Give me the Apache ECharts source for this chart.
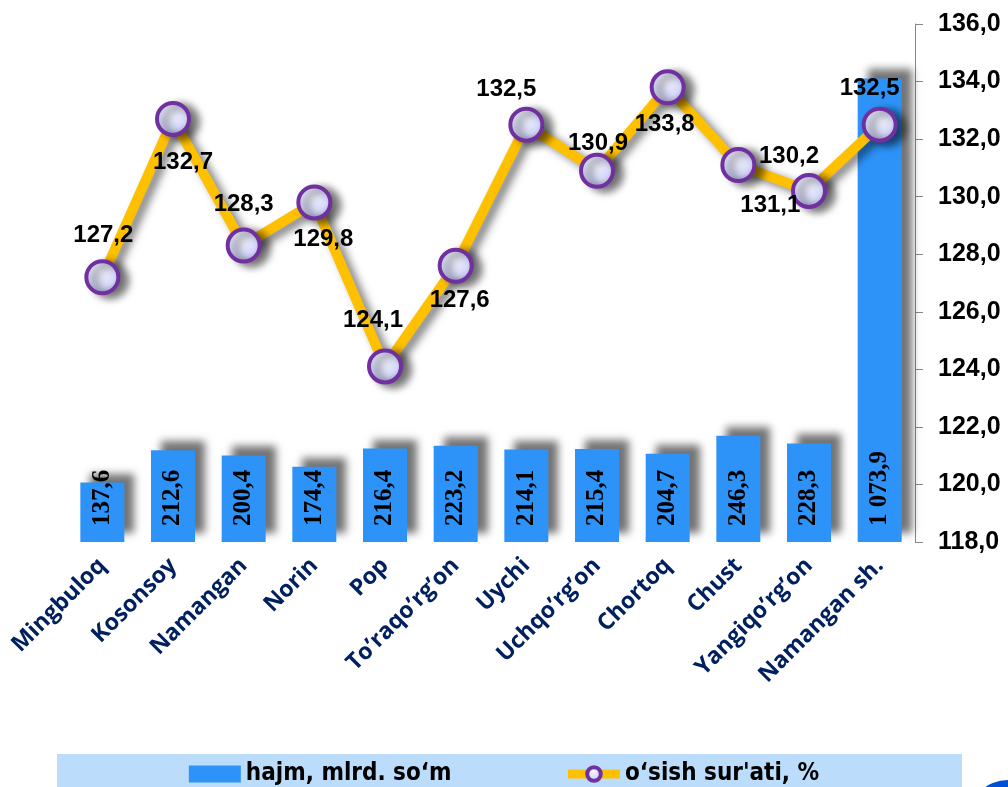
<!DOCTYPE html>
<html>
<head>
<meta charset="utf-8">
<script src="https://cdn.jsdelivr.net/npm/echarts@6/dist/echarts.min.js"></script>
<style>
  html, body { margin: 0; padding: 0; background: #fff; }
  #chart { width: 1008px; height: 787px; }
</style>
</head>
<body>
<div id="chart"></div>
<script>
// tumanlar
const categories = ["Mingbuloq", "Kosonsoy", "Namangan", "Norin", "Pop", "To\u2019raqo\u2019rg\u2019on",
  "Uychi", "Uchqo\u2019rg\u2019on", "Chortoq", "Chust", "Yangiqo\u2019rg\u2019on", "Namangan sh."];
// hajm, mlrd. so'm
const volume = [137.6, 212.6, 200.4, 174.4, 216.4, 223.2, 214.1, 215.4, 204.7, 246.3, 228.3, 1073.9];
// o'sish sur'ati, %
const growth = [127.2, 132.7, 128.3, 129.8, 124.1, 127.6, 132.5, 130.9, 133.8, 131.1, 130.2, 132.5];
const rightTicks = [118, 120, 122, 124, 126, 128, 130, 132, 134, 136];

// label offsets for line values (style only)
const labelOffsets = [[1, -42], [10, 43], [0, -41], [9, 37], [-12, -46], [4, 35],
  [-20, -35], [1, -27], [-3, 37], [32, 40], [-20, -35], [-10, -36]];

const fmt = v => v.toFixed(1).replace(".", ",");
const fmtBig = v => {
  const s = v.toFixed(1).replace(".", ",");
  return v >= 1000 ? s.replace(/^(\d)(\d{3})/, "$1 $2") : s;
};

const markerFill = new echarts.graphic.RadialGradient(0.45, 0.35, 0.75, [
  { offset: 0, color: "#F4F5FF" },
  { offset: 0.55, color: "#D6D9F8" },
  { offset: 1, color: "#9C9AD0" }
]);

const chart = echarts.init(document.getElementById("chart"));
const option = {
  animation: false,
  grid: { left: 67, right: 93, top: 24, bottom: 245 },
  legend: {
    bottom: -4,
    left: "center",
    itemGap: 112,
    itemWidth: 52,
    itemHeight: 17,
    textStyle: { fontFamily: "Liberation Sans Narrow, DejaVu Sans Condensed", fontWeight: "bold", fontSize: 24, color: "#000" },
    data: [
      { name: "hajm, mlrd. so\u2018m", icon: "rect" },
      {
        name: "o\u2018sish sur'ati, %",
        lineStyle: { width: 9, color: "#FFC000" },
        itemStyle: { color: markerFill, borderColor: "#7030A0", borderWidth: 4 }
      }
    ]
  },
  graphic: [
    { type: "rect", z: -1, shape: { x: 57, y: 754, width: 905, height: 40 }, style: { fill: "#BBDCFA" } },
    { type: "circle", shape: { cx: 1008, cy: 820, r: 40 }, style: { fill: "#0050D8" } }
  ],
  xAxis: {
    type: "category",
    data: categories,
    axisLine: { show: false },
    axisTick: { show: false },
    axisLabel: {
      interval: 0,
      rotate: 45,
      margin: 20,
      color: "#002060",
      fontFamily: "Open Sans",
      fontWeight: "bold",
      fontSize: 23
    }
  },
  yAxis: [
    { type: "value", min: 0, max: 1200, show: false, splitLine: { show: false } },
    {
      type: "value",
      position: "right",
      min: rightTicks[0],
      max: rightTicks[rightTicks.length - 1],
      interval: 2,
      splitLine: { show: false },
      axisLine: { show: true, lineStyle: { color: "#888" } },
      axisTick: { show: true, length: 8, lineStyle: { color: "#888" } },
      axisLabel: {
        margin: 23,
        color: "#000",
        fontFamily: "Liberation Sans",
        fontWeight: "bold",
        fontSize: 25,
        formatter: v => fmt(v)
      }
    }
  ],
  series: [
    {
      name: "hajm, mlrd. so\u2018m",
      type: "bar",
      yAxisIndex: 0,
      barWidth: 44,
      data: volume,
      itemStyle: {
        color: "#2E93F8",
        shadowColor: "rgba(0,0,0,0.55)",
        shadowBlur: 8,
        shadowOffsetX: 10,
        shadowOffsetY: -9
      },
      label: {
        show: true,
        position: "insideBottom",
        rotate: 90,
        align: "left",
        verticalAlign: "middle",
        distance: 16,
        color: "#000",
        fontFamily: "Liberation Serif",
        fontWeight: "bold",
        fontSize: 25,
        formatter: p => fmtBig(p.value)
      }
    },
    {
      name: "o\u2018sish sur'ati, %",
      type: "line",
      yAxisIndex: 1,
      z: 5,
      symbol: "circle",
      symbolSize: 32,
      lineStyle: {
        color: "#FFC000",
        width: 10,
        shadowColor: "rgba(0,0,0,0.5)",
        shadowBlur: 8,
        shadowOffsetX: 6,
        shadowOffsetY: 4
      },
      itemStyle: {
        color: markerFill,
        borderColor: "#7030A0",
        borderWidth: 4,
        shadowColor: "rgba(0,0,0,0.55)",
        shadowBlur: 8,
        shadowOffsetX: 8,
        shadowOffsetY: 3
      },
      data: growth.map((v, i) => ({
        value: v,
        label: { offset: labelOffsets[i] }
      })),
      label: {
        show: true,
        position: "inside",
        color: "#000",
        fontFamily: "Liberation Sans",
        fontWeight: "bold",
        fontSize: 24,
        formatter: p => fmt(p.value)
      }
    }
  ]
};
chart.setOption(option);
</script>
</body>
</html>
